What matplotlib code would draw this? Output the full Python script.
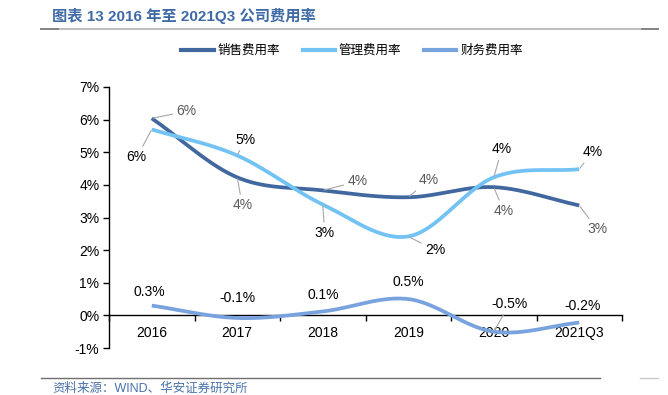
import numpy as np
import matplotlib
matplotlib.use("Agg")
import matplotlib.pyplot as plt
from matplotlib.lines import Line2D

plt.rcParams['font.family'] = ['Liberation Sans', 'Noto Sans CJK SC', 'DejaVu Sans']

categories = ["2016", "2017", "2018", "2019", "2020", "2021Q3"]
sales_rate = [6.04, 4.23, 3.83, 3.62, 3.93, 3.37]      # 销售费用率 (%)
admin_rate = [5.70, 4.90, 3.40, 2.42, 4.23, 4.48]      # 管理费用率 (%)
finance_rate = [0.30, -0.08, 0.12, 0.50, -0.50, -0.22]  # 财务费用率 (%)
y_ticks = [-1, 0, 1, 2, 3, 4, 5, 6, 7]

series_names = ["销售费用率", "管理费用率", "财务费用率"]
colors = ["#41689e", "#72c2f4", "#79a3de"]

W, H = 668, 395
fig = plt.figure(figsize=(W / 100, H / 100), dpi=100)
ax = fig.add_axes([109 / W, 1 - 348 / H, (622 - 109) / W, (348 - 87) / H])


def smooth(x, y, n=30):
    x = np.asarray(x, float)
    y = np.asarray(y, float)
    px = np.concatenate([[2 * x[0] - x[1]], x, [2 * x[-1] - x[-2]]])
    py = np.concatenate([[2 * y[0] - y[1]], y, [2 * y[-1] - y[-2]]])
    xs, ys = [], []
    for i in range(1, len(px) - 2):
        t = np.linspace(0, 1, n, endpoint=(i == len(px) - 3))
        p0, p1, p2, p3 = py[i - 1], py[i], py[i + 1], py[i + 2]
        q0, q1, q2, q3 = px[i - 1], px[i], px[i + 1], px[i + 2]
        f = lambda a0, a1, a2, a3: 0.5 * ((2 * a1) + (-a0 + a2) * t
                                          + (2 * a0 - 5 * a1 + 4 * a2 - a3) * t ** 2
                                          + (-a0 + 3 * a1 - 3 * a2 + a3) * t ** 3)
        xs.append(f(q0, q1, q2, q3))
        ys.append(f(p0, p1, p2, p3))
    return np.concatenate(xs), np.concatenate(ys)


xpos = np.arange(len(categories))
all_series = [sales_rate, admin_rate, finance_rate]
for vals, c in zip(all_series, colors):
    sx, sy = smooth(xpos, vals)
    ax.plot(sx, sy, color=c, lw=2.7, solid_capstyle='butt', zorder=3)

# data labels: (dx, dy) offsets in pixels, leader flag
sales_off = [(35, 7, True), (5, -28, True), (35, 9, True), (20, 17, True), (10, -24, True), (18, -24, True)]
admin_off = [(-15, -28, True), (8, 16, True), (2, -29, True), (27, -14, True), (8, 28, True), (13, 17, True)]
fin_off = [(-2, 14, False), (0, 20, False), (1, 16, False), (0, 17, False), (16, 28, True), (3, 17, False)]

label_specs = [(sales_rate, sales_off, "{:.0f}%", "#595959"),
               (admin_rate, admin_off, "{:.0f}%", "#000000"),
               (finance_rate, fin_off, "{:.1f}%", "#000000")]
for vals, offs, fmt, tc in label_specs:
    for i, (v, (dx, dy, lead)) in enumerate(zip(vals, offs)):
        kw = {}
        if lead:
            kw['arrowprops'] = dict(arrowstyle='-', color='#a6a6a6', lw=0.8,
                                    shrinkA=1, shrinkB=1)
        ax.annotate(fmt.format(v), xy=(i, v), xytext=(dx, dy),
                    textcoords='offset pixels', ha='center', va='center',
                    fontsize=10, color=tc, zorder=4, **kw)

ax.set_xlim(-0.5, len(categories) - 0.5)
ax.set_ylim(-1, 7)
ax.set_yticks(y_ticks)
ax.set_yticklabels([f"{t}%" for t in y_ticks])
ax.spines['top'].set_visible(False)
ax.spines['right'].set_visible(False)
ax.spines['bottom'].set_position(('data', 0))
for s in ['left', 'bottom']:
    ax.spines[s].set_linewidth(1.0)
    ax.spines[s].set_color('black')

ax.set_xticks(np.arange(-0.5, len(categories), 1.0))
ax.set_xticklabels([])
ax.set_xticks(xpos, minor=True)
ax.set_xticklabels(categories, minor=True)
ax.tick_params(axis='x', which='major', direction='out', length=4, width=1)
ax.tick_params(axis='x', which='minor', length=0, pad=8, labelsize=10)
ax.tick_params(axis='y', direction='out', length=4, width=1, labelsize=10, pad=3)

# legend
handles = [Line2D([], [], color=c, lw=3) for c in colors]
fig.legend(handles, series_names, loc='center', bbox_to_anchor=(352 / W, 1 - 51 / H),
           ncol=3, frameon=False, fontsize=9, handlelength=2.6, handletextpad=0.3,
           columnspacing=1.8)

# title
fig.text(52 / W, 1 - 16 / H, "图表 13 2016 年至 2021Q3 公司费用率", ha='left', va='center',
         fontsize=11, fontweight='bold', color='#3f6aa6')
fig.add_artist(Line2D([41 / W, 658 / W], [1 - 29 / H] * 2, color='#b8b8b8', lw=1.3))
fig.add_artist(Line2D([41 / W, 58 / W], [1 - 29 / H] * 2, color='#808080', lw=1.3))
fig.add_artist(Line2D([642 / W, 658 / W], [1 - 29 / H] * 2, color='#808080', lw=1.3))

# footer
fig.add_artist(Line2D([41 / W, 600 / W], [1 - 378 / H] * 2, color='#707070', lw=1.0))
fig.add_artist(Line2D([640 / W, 658 / W], [1 - 378 / H] * 2, color='#c8c8c8', lw=1.0))
fig.text(52 / W, 1 - 389 / H, "资料来源：WIND、华安证券研究所", ha='left', va='center',
         fontsize=9, color='#4a72aa')

fig.savefig("out.png", dpi=100)
